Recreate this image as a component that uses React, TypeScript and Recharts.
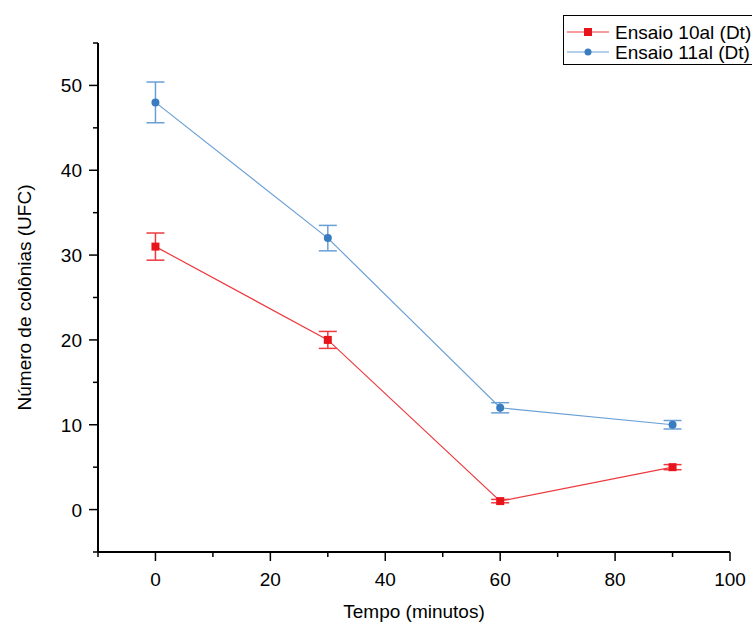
import React from 'react';
import { LineChart, Line, XAxis, YAxis, ErrorBar } from 'recharts';

const tempo = [0, 30, 60, 90];
const ensaio10 = [31, 20, 1, 5];
const erro10 = [1.6, 1.0, 0.2, 0.3];
const ensaio11 = [48, 32, 12, 10];
const erro11 = [2.4, 1.5, 0.6, 0.5];
const xTicks = [-10, 0, 10, 20, 30, 40, 50, 60, 70, 80, 90, 100];
const yTicks = [-5, 0, 5, 10, 15, 20, 25, 30, 35, 40, 45, 50, 55];
const seriesNames = ['Ensaio 10al (Dt)', 'Ensaio 11al (Dt)'];

const data = tempo.map((t, i) => ({
  t,
  a: ensaio10[i],
  ea: erro10[i],
  b: ensaio11[i],
  eb: erro11[i],
}));

const RED = '#e8141c';
const RED_LINE = '#ec3a3f';
const BLUE = '#3a7cc0';
const BLUE_LINE = '#6a9fd6';
const FONT = '"Liberation Sans", Arial, sans-serif';
const FS = 19;

const XTick = (props: any) => {
  const { x, y, payload } = props;
  const major = payload.value % 20 === 0;
  return (
    <g>
      <line x1={x} x2={x} y1={y} y2={y + (major ? 9 : 5)} stroke="#000" strokeWidth={1.5} />
      {major && (
        <text x={x} y={y + 34} textAnchor="middle" fontSize={FS} fontFamily={FONT} fill="#000">
          {payload.value}
        </text>
      )}
    </g>
  );
};

const YTick = (props: any) => {
  const { x, y, payload } = props;
  const major = payload.value % 10 === 0;
  return (
    <g>
      <line x1={x} x2={x - (major ? 9 : 5)} y1={y} y2={y} stroke="#000" strokeWidth={1.5} />
      {major && (
        <text x={x - 16} y={y + 7} textAnchor="end" fontSize={FS} fontFamily={FONT} fill="#000">
          {payload.value}
        </text>
      )}
    </g>
  );
};

const SquareDot = (props: any) => {
  const { cx, cy } = props;
  if (cx == null || cy == null) return null;
  return <rect x={cx - 4} y={cy - 4} width={8} height={8} fill={RED} />;
};

const CircleDot = (props: any) => {
  const { cx, cy } = props;
  if (cx == null || cy == null) return null;
  return <circle cx={cx} cy={cy} r={4} fill={BLUE} />;
};

const LegendBox = () => (
  <div
    style={{
      position: 'absolute',
      left: 563,
      top: 15,
      width: 200,
      height: 50,
      border: '1.5px solid #000',
      background: '#fff',
      boxSizing: 'border-box',
    }}
  >
    <svg width={200} height={50} style={{ position: 'absolute', left: 0, top: 0 }}>
      <line x1={3} x2={45} y1={16} y2={16} stroke={RED_LINE} strokeWidth={1.2} />
      <rect x={20} y={12} width={8} height={8} fill={RED} />
      <text x={51} y={23} fontSize={FS} fontFamily={FONT} fill="#000">{seriesNames[0]}</text>
      <line x1={3} x2={45} y1={36} y2={36} stroke={BLUE_LINE} strokeWidth={1.2} />
      <circle cx={24} cy={36} r={3.5} fill={BLUE} />
      <text x={51} y={43} fontSize={FS} fontFamily={FONT} fill="#000">{seriesNames[1]}</text>
    </svg>
  </div>
);

export default function App() {
  return (
    <div style={{ position: 'absolute', left: 0, top: 0, width: 752, height: 622, background: '#fff', overflow: 'hidden' }}>
      <LineChart width={752} height={622} data={data} margin={{ top: 43, right: 22, bottom: 0, left: 0 }}>
        <XAxis
          type="number"
          dataKey="t"
          domain={[-10, 100]}
          ticks={xTicks}
          interval={0}
          tickSize={0}
          tickMargin={0}
          tickLine={false}
          tick={<XTick />}
          height={70}
          axisLine={{ stroke: '#000', strokeWidth: 2 }}
          label={(p: any) => {
            const vb = p.viewBox;
            return (
              <text x={vb.x + vb.width / 2} y={618} textAnchor="middle" fontSize={FS} fontFamily={FONT} fill="#000">
                Tempo (minutos)
              </text>
            );
          }}
        />
        <YAxis
          type="number"
          domain={[-5, 55]}
          ticks={yTicks}
          interval={0}
          tickSize={0}
          tickMargin={0}
          tickLine={false}
          tick={<YTick />}
          width={98}
          axisLine={{ stroke: '#000', strokeWidth: 2 }}
          label={(p: any) => {
            const vb = p.viewBox;
            const cy = vb.y + vb.height / 2;
            return (
              <text x={31} y={cy} transform={`rotate(-90 31 ${cy})`} textAnchor="middle" fontSize={FS} fontFamily={FONT} fill="#000">
                Número de colônias (UFC)
              </text>
            );
          }}
        />
        <Line
          dataKey="a"
          name={seriesNames[0]}
          stroke={RED_LINE}
          strokeWidth={1.2}
          dot={<SquareDot />}
          activeDot={false}
          isAnimationActive={false}
        >
          <ErrorBar dataKey="ea" width={9} stroke={RED_LINE} strokeWidth={1.5} direction="y" />
        </Line>
        <Line
          dataKey="b"
          name={seriesNames[1]}
          stroke={BLUE_LINE}
          strokeWidth={1.2}
          dot={<CircleDot />}
          activeDot={false}
          isAnimationActive={false}
        >
          <ErrorBar dataKey="eb" width={9} stroke={BLUE_LINE} strokeWidth={1.5} direction="y" />
        </Line>
      </LineChart>
      <LegendBox />
    </div>
  );
}
